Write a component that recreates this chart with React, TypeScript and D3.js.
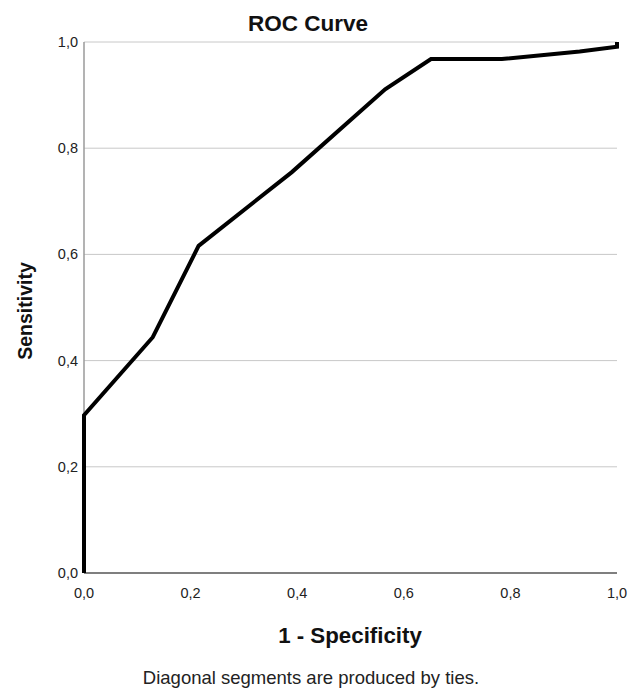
import React from "react";
import * as d3 from "d3";

const fpr = [0, 0, 0.129, 0.215, 0.39, 0.565, 0.651, 0.784, 0.93, 1.0, 1.0];
const tpr = [0, 0.297, 0.444, 0.616, 0.755, 0.911, 0.968, 0.968, 0.982, 0.991, 1.0];
const ticks = [0, 0.2, 0.4, 0.6, 0.8, 1.0];

const W = 641;
const H = 690;
const m = { left: 84, right: 24, top: 42, bottom: 117 };

const fmt = (v: number) => v.toFixed(1).replace(".", ",");

export default function App() {
  const x = d3.scaleLinear().domain([0, 1]).range([m.left, W - m.right]);
  const y = d3.scaleLinear().domain([0, 1]).range([H - m.bottom, m.top]);

  const pts: [number, number][] = fpr.map((f, i) => [f, tpr[i]]);
  const line = d3
    .line<[number, number]>()
    .x((d) => x(d[0]))
    .y((d) => y(d[1]));

  const font = "'Liberation Sans', Arial, sans-serif";

  return (
    <svg
      width={W}
      height={H}
      style={{ position: "absolute", left: 0, top: 0, background: "#fff" }}
      fontFamily={font}
    >
      <text x={308} y={31} textAnchor="middle" fontSize={22.5} fontWeight="bold" fill="#111">
        ROC Curve
      </text>

      {/* grid */}
      {ticks.slice(1).map((t) => (
        <line key={t} x1={x(0)} x2={x(1)} y1={y(t)} y2={y(t)} stroke="#c8c8c8" strokeWidth={1} />
      ))}

      {/* axes */}
      <line x1={x(0)} x2={x(0)} y1={y(0)} y2={y(1)} stroke="#9a9a9a" strokeWidth={1.5} />
      <line x1={x(0)} x2={x(1)} y1={y(0)} y2={y(0)} stroke="#555" strokeWidth={1.5} />

      {ticks.map((t) => (
        <text key={"y" + t} x={x(0) - 6} y={y(t) + 5} textAnchor="end" fontSize={14.5} fill="#222">
          {fmt(t)}
        </text>
      ))}
      {ticks.map((t) => (
        <text key={"x" + t} x={x(t)} y={y(0) + 25} textAnchor="middle" fontSize={14.5} fill="#222">
          {fmt(t)}
        </text>
      ))}

      <path
        d={line(pts) || ""}
        fill="none"
        stroke="#000"
        strokeWidth={4}
        strokeLinejoin="miter"
      />

      <text
        transform={`translate(32, 311) rotate(-90)`}
        textAnchor="middle"
        fontSize={19.5}
        fontWeight="bold"
        fill="#111"
      >
        Sensitivity
      </text>
      <text x={350} y={643} textAnchor="middle" fontSize={22.3} fontWeight="bold" fill="#111">
        1 - Specificity
      </text>
      <text x={311} y={684} textAnchor="middle" fontSize={18.5} fill="#222">
        Diagonal segments are produced by ties.
      </text>
    </svg>
  );
}
